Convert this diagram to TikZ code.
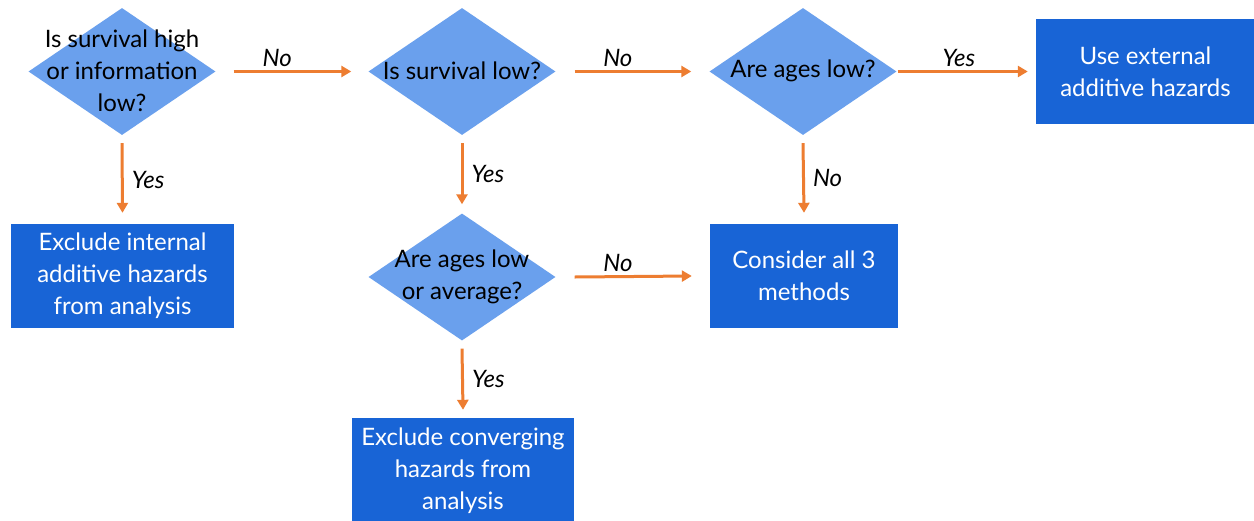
\documentclass[tikz,border=0pt]{standalone}
\usepackage{fontspec}
\setmainfont{Lato}
\usetikzlibrary{shapes.geometric,arrows.meta}
\definecolor{dfill}{RGB}{106,160,237}
\definecolor{bfill}{RGB}{24,100,214}
\definecolor{arr}{RGB}{237,125,49}
\tikzset{
  dia/.style={diamond, fill=dfill, draw=none, minimum width=187pt, minimum height=127pt, inner sep=0pt},
  qtext/.style={align=center, text=black, font=\fontsize{24}{32}\selectfont},
  box/.style={rectangle, fill=bfill, draw=none, text=white, align=center, font=\fontsize{24}{32}\selectfont, inner sep=0pt},
  conn/.style={draw=arr, line width=3pt, -{Triangle[length=10pt,width=11pt]}},
  lab/.style={font=\fontsize{24}{28}\selectfont\itshape, text=black, inner sep=2pt}
}
\begin{document}
\begin{tikzpicture}[x=1pt,y=-1pt]
\useasboundingbox (0,0) rectangle (1254,520);
\fill[white] (0,0) rectangle (1254,520);
\begin{scope}
\clip (0,0) rectangle (1254,520);
% diamonds
\node[dia] (d1) at (122,71.5) {};
\node[qtext] (t1) at (122,71) {Is survival high\\or information\\low?};
\node[dia] (d2) at (462,71.5) {};
\node[qtext] (t2) at (462,71) {Is survival low?};
\node[dia] (d3) at (803,71.5) {};
\node[qtext] (t3) at (803,71) {Are ages low?};
\node[dia] (d4) at (462,277) {};
\node[qtext] (t4) at (462,277) {Are ages low\\or average?};
% boxes
\node[box, minimum width=223pt, minimum height=104pt] (bA) at (122.5,276) {Exclude internal\\additive hazards\\from analysis};
\node[box, minimum width=222pt, minimum height=106pt] (bB) at (463,471) {Exclude converging\\hazards from\\analysis};
\node[box, minimum width=188pt, minimum height=104pt] (bC) at (804,276) {Consider all 3\\methods};
\node[box, minimum width=219pt, minimum height=105pt] (bD) at (1145.5,71.5) {Use external\\additive hazards};
\end{scope}
% connectors
\draw[conn] ([xshift=18pt]d1.east) -- node[lab, pos=0.37, above, yshift=1pt] {No} ([xshift=-17pt]d2.west);
\draw[conn] ([xshift=19pt]d2.east) -- node[lab, pos=0.37, above, yshift=1pt] {No} ([xshift=-18pt]d3.west);
\draw[conn] ([xshift=1pt]d3.east) -- node[lab, pos=0.47, above, yshift=1pt] {Yes} ([xshift=-8pt]bD.west);
\draw[conn] ([yshift=-8pt]d1.south) -- node[lab, pos=0.53, right, xshift=6pt] {Yes} ([yshift=11pt]bA.north);
\draw[conn] ([yshift=-8pt]d2.south) -- node[lab, pos=0.5, right, xshift=6pt] {Yes} ([yshift=9pt]d4.north);
\draw[conn] ([yshift=-8pt]d3.south) -- node[lab, pos=0.5, right, xshift=6pt] {No} ([yshift=11pt]bC.north);
\draw[conn] ([yshift=-8pt]d4.south) -- node[lab, pos=0.5, right, xshift=6pt] {Yes} ([yshift=8pt]bB.north);
\draw[conn] ([xshift=19pt]d4.east) -- node[lab, pos=0.37, above, yshift=1pt] {No} ([xshift=-18pt]bC.west);
\end{tikzpicture}
\end{document}
